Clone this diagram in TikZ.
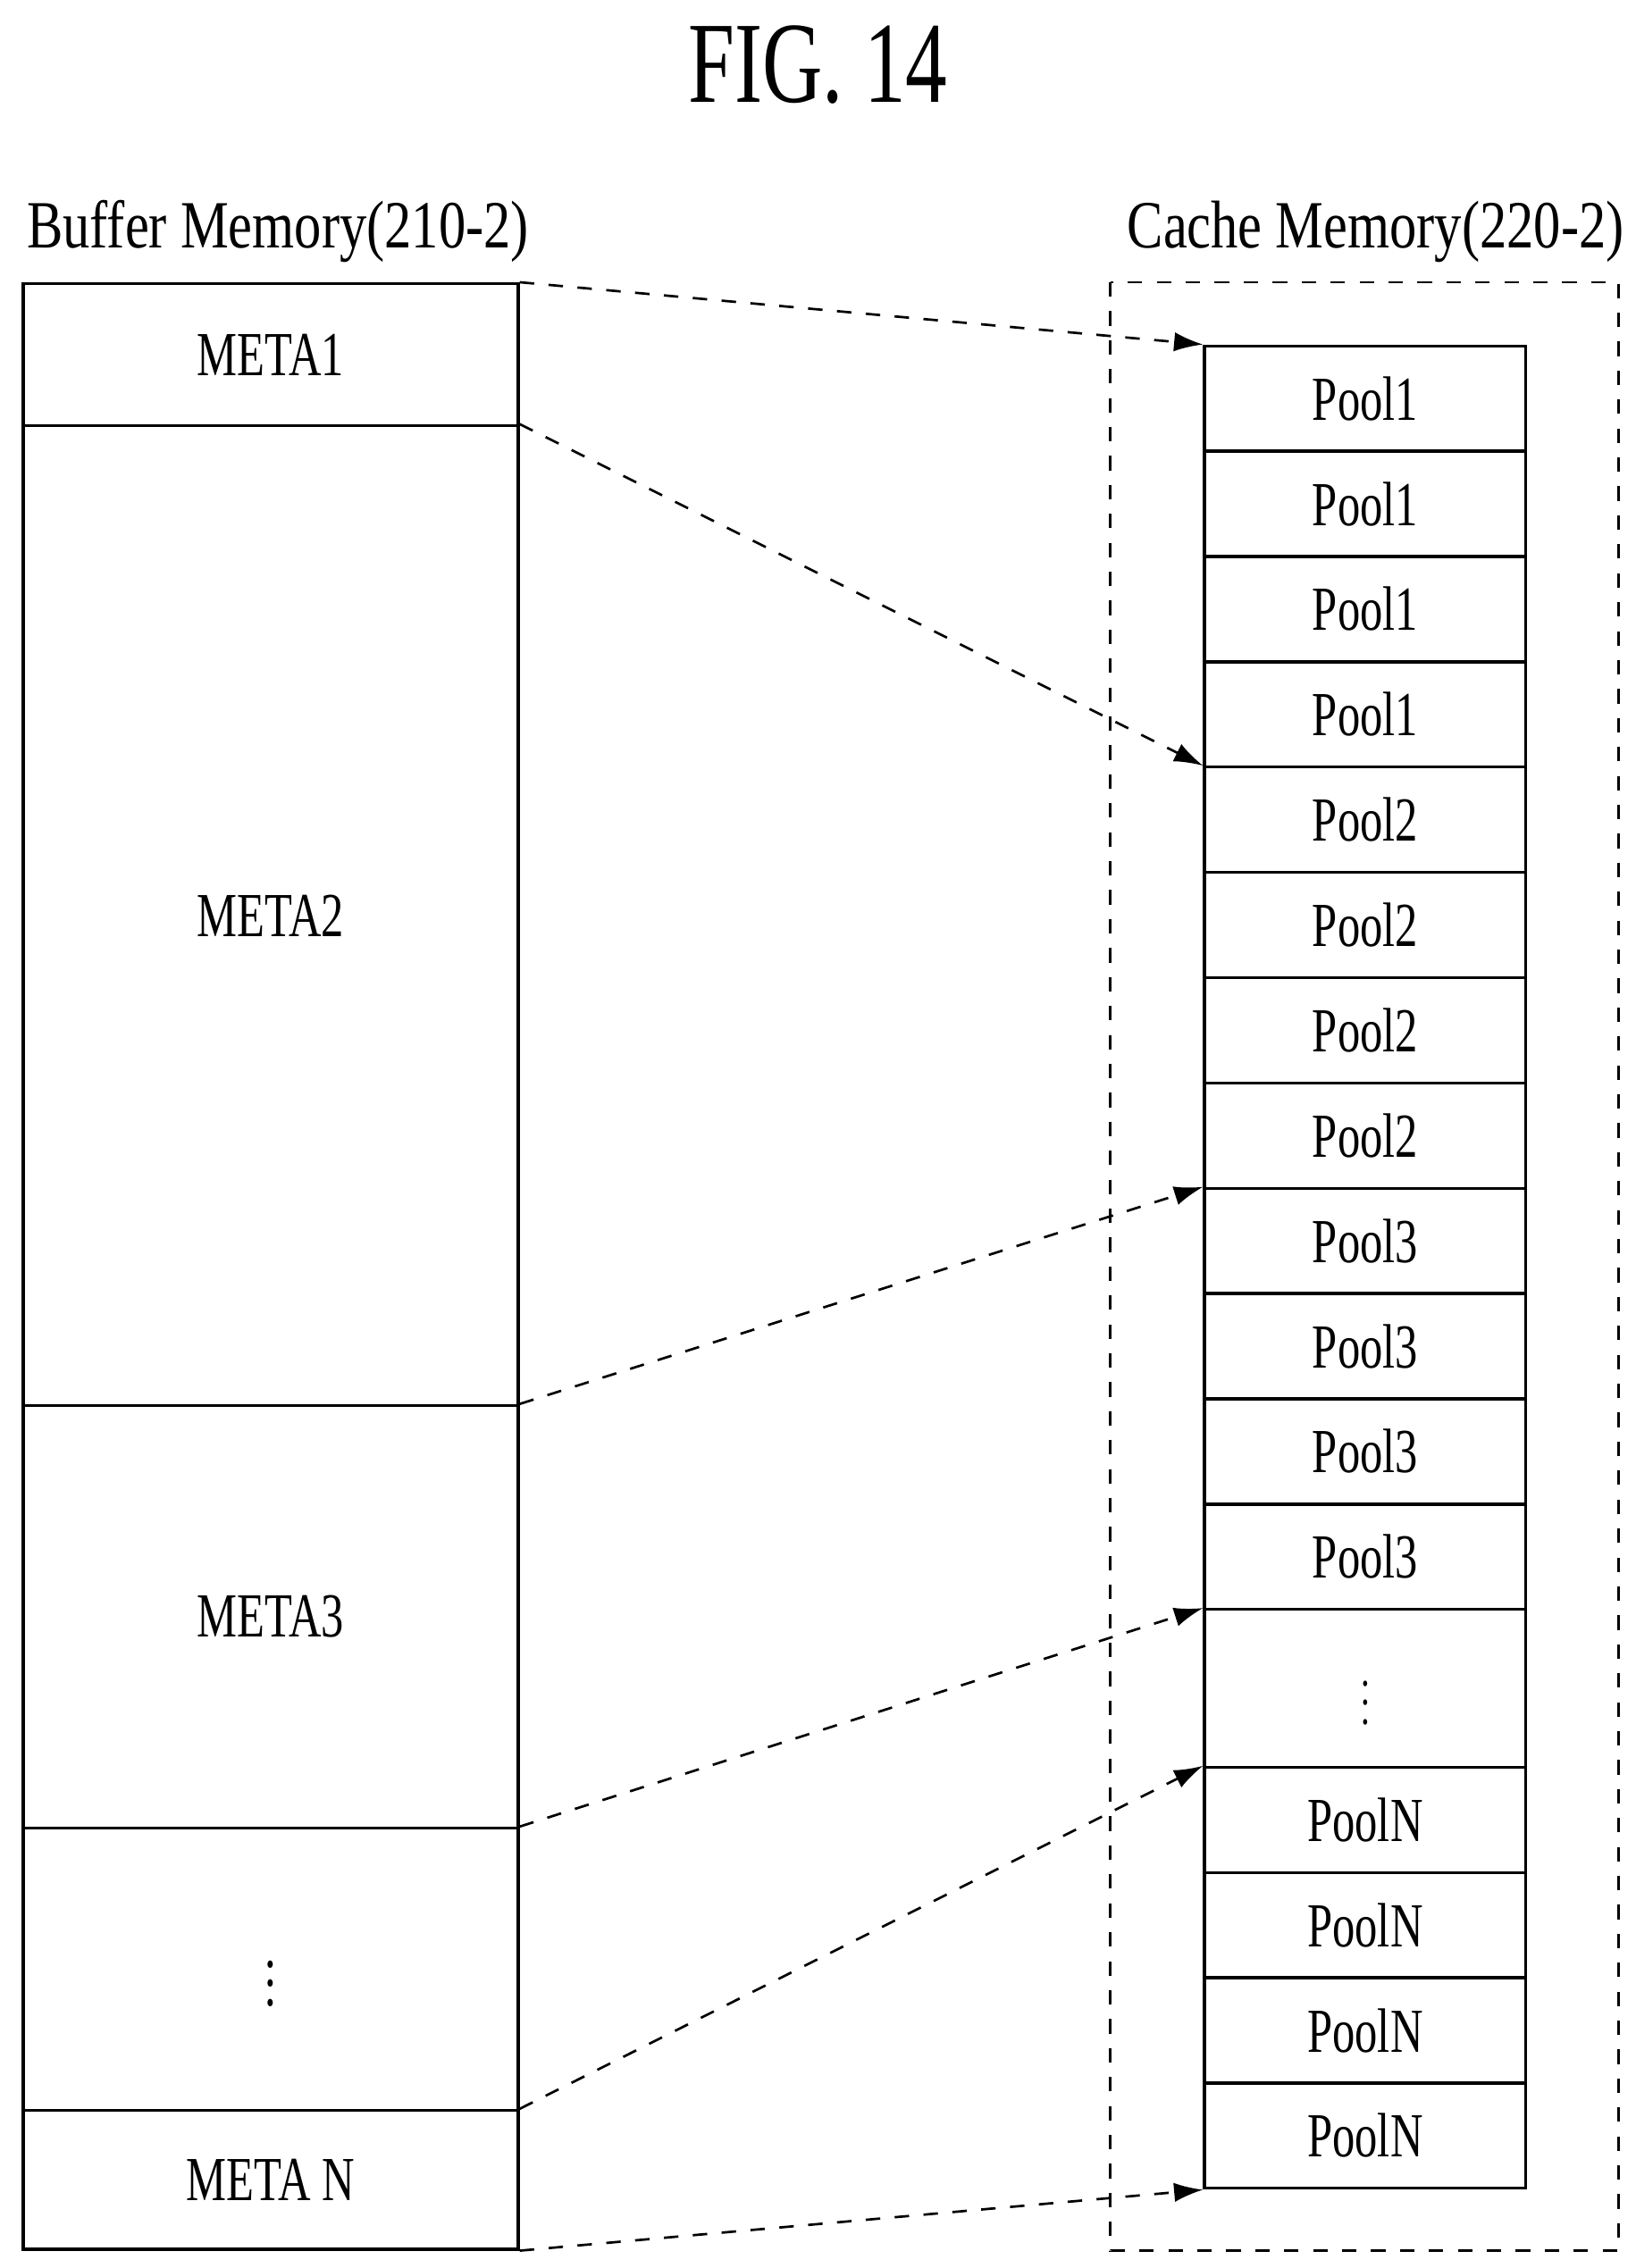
\documentclass[tikz,border=0pt]{standalone}
\usepackage{fontspec}
\setmainfont{Liberation Serif}[FakeStretch=0.72]
\newfontfamily\lblfont{Liberation Serif}[FakeStretch=0.8]
\usetikzlibrary{arrows.meta}
\begin{document}
\begin{tikzpicture}[x=0.3pt,y=-0.3pt,
  cell/.style={draw,line width=0.6pt,minimum width=66.6pt,minimum height=21.8pt,inner sep=0,font=\fontsize{13}{13}\selectfont},
  link/.style={dashed,line width=0.5pt,-{Latex[length=6pt,width=4pt]}},
  lbl/.style={font=\lblfont\fontsize{14}{14}\selectfont,anchor=west,inner sep=0}]
\useasboundingbox (0,0) rectangle (1130,1567);
\node (title) at (565,45) {\fontsize{24}{24}\selectfont FIG. 14};
\node[lbl] (bl) at (18,160) {Buffer Memory(210-2)};
\node[lbl] (cl) at (778,160) {Cache Memory(220-2)};
\draw[dashed,line width=0.5pt] (767,195) rectangle (1118,1555);
% buffer
\foreach \a/\b/\t/\n in {195/293/META1/m1,293/970/META2/m2,970/1262/META3/m3,1262/1457/{$\vdots$}/m4,1457/1553/META N/m5}{
  \node[draw,line width=0.6pt,minimum width=102.6pt,minimum height={(\b-\a)*0.3pt},inner sep=0,anchor=north west,font=\fontsize{13}{13}\selectfont] (\n) at (15,\a) {\t};
}
% pools
\foreach \i/\t in {0/Pool1,1/Pool1,2/Pool1,3/Pool1,4/Pool2,5/Pool2,6/Pool2,7/Pool2,8/Pool3,9/Pool3,10/Pool3,11/Pool3}{
  \node[cell,anchor=north west] (p\i) at (831,{238+72.75*\i}) {\t};
}
\node[draw,line width=0.6pt,minimum width=66.6pt,minimum height=32.7pt,inner sep=0,anchor=north west] (pd) at (831,1111) {$\vdots$};
\foreach \i in {0,1,2,3}{
  \node[cell,anchor=north west] (q\i) at (831,{1220+72.75*\i}) {PoolN};
}
\draw[link] (m1.north east) -- (p0.north west);
\draw[link] (m2.north east) -- (p4.north west);
\draw[link] (m3.north east) -- (p8.north west);
\draw[link] (m4.north east) -- (pd.north west);
\draw[link] (m5.north east) -- (q0.north west);
\draw[link] (m5.south east) -- (q3.south west);
\end{tikzpicture}
\end{document}
